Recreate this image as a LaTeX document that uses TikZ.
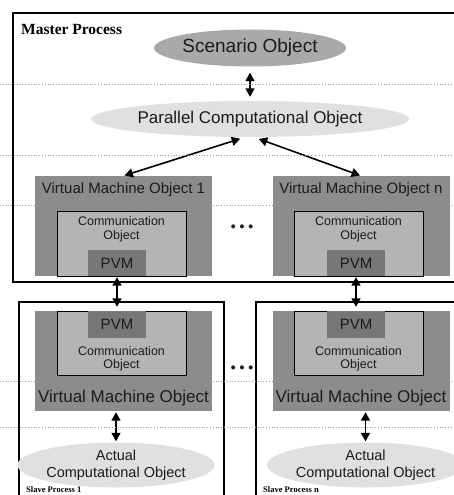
\documentclass[tikz,border=0pt]{standalone}
\usepackage{fontspec}
\setmainfont{Liberation Sans}
\newfontfamily\procfont{Liberation Serif}
\usetikzlibrary{positioning,arrows.meta,shapes.geometric}
\definecolor{cScen}{HTML}{A9A9A9}
\definecolor{cPar}{HTML}{E0E0E0}
\definecolor{cVM}{HTML}{8C8C8C}
\definecolor{cCom}{HTML}{B4B4B4}
\definecolor{cPVM}{HTML}{777777}
\definecolor{cGrey}{HTML}{9A9A9A}
\definecolor{cInk}{HTML}{1B1B1B}
\newcommand{\fs}[1]{\fontsize{#1}{#1}\selectfont}
\tikzset{
  proc/.style={draw=black, line width=2pt},
  proclbl/.style={anchor=base west, inner sep=0pt, font=\procfont\bfseries#1},
  vmbox/.style={fill=cVM, minimum width=177pt, minimum height=100pt, inner sep=0pt},
  combox/.style={draw=black, line width=0.8pt, fill=cCom, minimum width=129pt,
                 minimum height=65pt, inner sep=0pt},
  pvmbox/.style={fill=cPVM, minimum width=58pt, minimum height=26pt, inner sep=0pt,
                 text=cInk, font=\fs{15}},
  obj/.style={ellipse, inner sep=0pt, text=cInk},
  txt/.style={inner sep=0pt, align=center, text=cInk},
  dar/.style={{Triangle[length=8.5pt,width=9pt]}-{Triangle[length=8.5pt,width=9pt]},
              line width=1.6pt},
  sep/.style={dotted, draw=cGrey, line width=0.8pt}
}

\begin{document}
\begin{tikzpicture}[x=1pt, y=-1pt]
\useasboundingbox (0,0) rectangle (454,495);
% master process
\draw[proc] (13,13) rectangle (470,282);
\node[proclbl=\fs{15.5}] (mlbl) at (21,35) {Master Process};
\node[obj, fill=cScen, minimum width=192pt, minimum height=37pt, font=\fs{19}] (scen) at (250,48) {Scenario Object};
\node[obj, fill=cPar, minimum width=264pt, minimum height=36pt, font=\fs{17}] (par) at (250,119) {Parallel Computational Object};
\node[vmbox] (vmA) at (123.5,226) {};
\node[txt, font=\fs{15}] (vmAlbl) at (123.5,190) {Virtual Machine Object 1};
\node[combox] (comA) at (121.5,243.5) {};
\node[txt, font=\fs{12.5}, align=center] (comAlbl) at (121.5,229.5) {Communication\\[1pt]Object};
\node[pvmbox] (pvmA) at (117,263) {PVM};
\node[vmbox] (vmN) at (361,226) {};
\node[txt, font=\fs{15}] (vmNlbl) at (361,190) {Virtual Machine Object n};
\node[combox] (comN) at (358.5,243.5) {};
\node[txt, font=\fs{12.5}] (comNlbl) at (358.5,229.5) {Communication\\[1pt]Object};
\node[pvmbox] (pvmN) at (356,263) {PVM};
\node[anchor=base, txt, font=\bfseries\fs{14}] (dotsM) at (242,231) {• • •};
% slave processes
\draw[proc] (19,302) rectangle (224,510);
\draw[proc] (256,302) rectangle (470,510);
\node[vmbox] (svmA) at (123.5,361) {};
\node[txt, font=\fs{17}] (svmAlbl) at (123.5,398) {Virtual Machine Object};
\node[combox, minimum height=64pt] (scomA) at (121.5,343) {};
\node[txt, font=\fs{12.5}] (scomAlbl) at (121.5,359) {Communication\\[1pt]Object};
\node[pvmbox, minimum height=27pt] (spvmA) at (117,324.5) {PVM};
\node[obj, fill=cPar, minimum width=167pt, minimum height=45pt, font=\fs{14.5}, align=center] (actA) at (116,465) {Actual\\[2pt]Computational Object};
\node[vmbox] (svmN) at (361,361) {};
\node[txt, font=\fs{17}] (svmNlbl) at (361,398) {Virtual Machine Object};
\node[combox, minimum height=64pt] (scomN) at (358.5,343) {};
\node[txt, font=\fs{12.5}] (scomNlbl) at (358.5,359) {Communication\\[1pt]Object};
\node[pvmbox, minimum height=27pt] (spvmN) at (356,324.5) {PVM};
\node[obj, fill=cPar, minimum width=167pt, minimum height=45pt, font=\fs{14.5}, align=center] (actN) at (365.5,465) {Actual\\[2pt]Computational Object};
\node[anchor=base, txt, font=\bfseries\fs{14}] (dotsS) at (242,372) {• • •};
\node[proclbl=\fs{8.5}] (slblA) at (26,492.5) {Slave Process 1};
\node[proclbl=\fs{8.5}] (slblN) at (263,492.5) {Slave Process n};
% links
\draw[dar, shorten <=6pt, shorten >=4pt] (scen) -- (par);
\draw[dar, shorten <=5pt, shorten >=1pt] ([xshift=-5pt]par.south) -- (vmA.north);
\draw[dar, shorten <=5pt, shorten >=1pt] ([xshift=4pt]par.south) -- (vmN.north);
\draw[dar, shorten <=1pt, shorten >=4pt] (pvmA) -- (spvmA);
\draw[dar, shorten <=1pt, shorten >=4pt] (pvmN) -- (spvmN);
\draw[dar, shorten <=1pt, shorten >=1pt] (actA.north |- svmA.south) -- (actA.north);
\draw[dar, shorten <=1pt, shorten >=1pt] (actN.north |- svmN.south) -- (actN.north);
% level separators
\foreach \yy in {84,155,205,381,427}
  \draw[sep] (0,\yy) -- (454,\yy);
\end{tikzpicture}
\end{document}
